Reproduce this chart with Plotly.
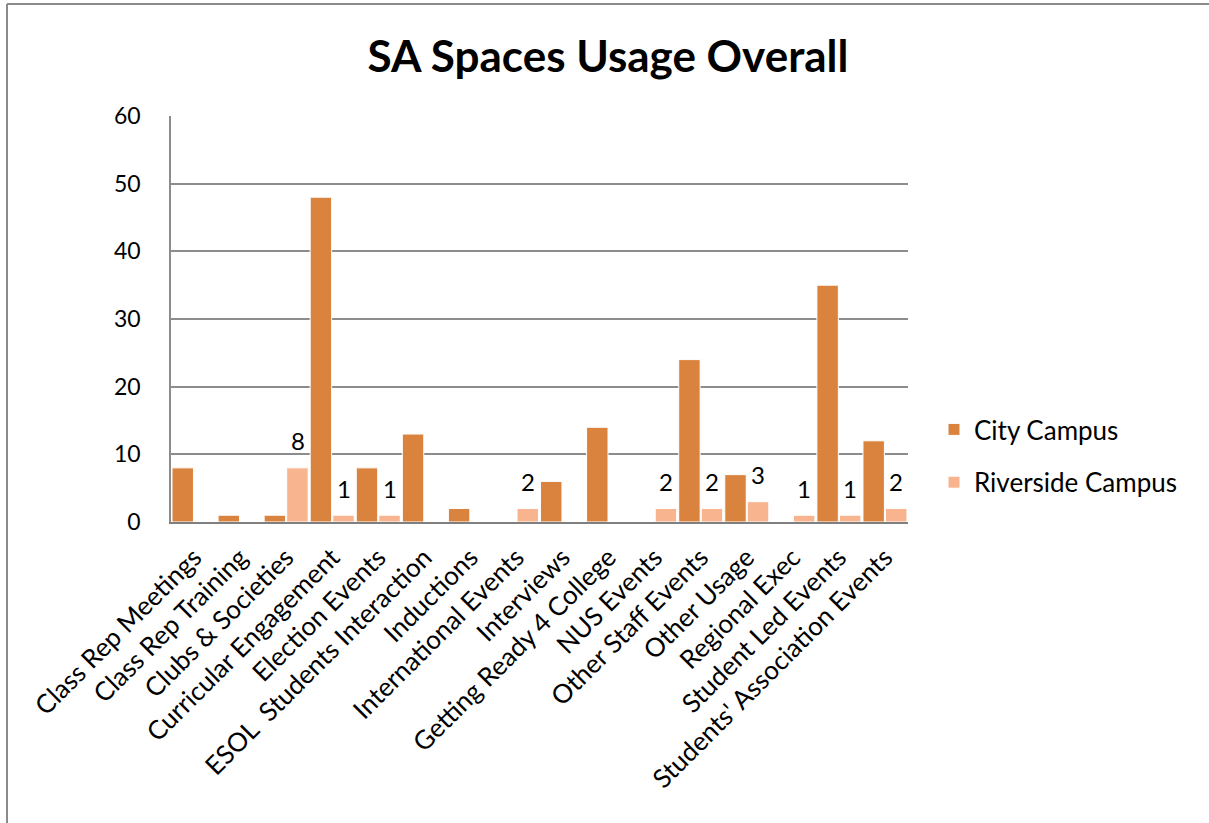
import plotly.graph_objects as go

categories = [
    "Class Rep Meetings", "Class Rep Training", "Clubs & Societies",
    "Curricular Engagement", "Election Events", "ESOL  Students Interaction",
    "Inductions", "International Events", "Interviews",
    "Getting Ready 4 College", "NUS Events", "Other Staff Events",
    "Other Usage", "Regional Exec", "Student Led Events",
    "Students' Association Events",
]
city_campus = [8, 1, 1, 48, 8, 13, 2, 0, 6, 14, 0, 24, 7, 0, 35, 12]
riverside_campus = [0, 0, 8, 1, 1, 0, 0, 2, 0, 0, 2, 2, 3, 1, 1, 2]
y_ticks = [0, 10, 20, 30, 40, 50, 60]

CITY_COLOR = "#D9833E"
RIVER_COLOR = "#F8B48E"
FONT = "Lato"

W, H = 1209, 823
L, R, T, B = 171, 301, 116, 301
PW, PH = W - L - R, H - T - B

fig = go.Figure()
fig.add_trace(go.Bar(
    name="City Campus", x=categories, y=city_campus,
    marker=dict(color=CITY_COLOR, line=dict(color="white", width=1)),
    legendgroup="a",
))
fig.add_trace(go.Bar(
    name="Riverside Campus", x=categories, y=riverside_campus,
    marker=dict(color=RIVER_COLOR, line=dict(color="white", width=1)),
    legendgroup="b",
))

annotations = []
for c, v in zip(categories, riverside_campus):
    if v > 0:
        annotations.append(dict(
            x=c, y=v, xref="x", yref="y", text=str(v), showarrow=False,
            xshift=11.5, yshift=27, yanchor="middle",
            font=dict(family=FONT, size=24, color="black"),
        ))

def px_x(p):
    return (p - L) / PW

def px_y(p):
    return (H - B - p) / PH

shapes = [
    dict(type="line", xref="paper", yref="paper",
         x0=px_x(7), x1=px_x(7), y0=px_y(4), y1=px_y(H + 5),
         line=dict(color="#8a8a8a", width=2)),
    dict(type="line", xref="paper", yref="paper",
         x0=px_x(7), x1=px_x(W + 5), y0=px_y(4), y1=px_y(4),
         line=dict(color="#8a8a8a", width=2)),
]

fig.update_layout(
    width=W, height=H,
    margin=dict(l=L, r=R, t=T, b=B, pad=0),
    paper_bgcolor="white", plot_bgcolor="white",
    barmode="group", bargap=0.02, bargroupgap=0.05,
    title=dict(text="<b>SA Spaces Usage Overall</b>", x=608 / W, xanchor="center",
               y=1 - 57 / H, yanchor="middle", yref="container",
               font=dict(family=FONT, size=44, color="black")),
    font=dict(family=FONT, color="black"),
    xaxis=dict(
        tickangle=-45, tickfont=dict(family=FONT, size=26, color="black"),
        showline=True, linecolor="#7f7f7f", linewidth=2,
        showgrid=False, ticks="", ticklabelstandoff=8,
    ),
    yaxis=dict(
        range=[0, 60], tickvals=y_ticks, ticktext=[str(t) for t in y_ticks],
        tickfont=dict(family=FONT, size=23, color="black"),
        showgrid=True, gridcolor="#8c8c8c", gridwidth=1.5,
        showline=True, linecolor="#8c8c8c", linewidth=1.5,
        ticks="", ticklabelstandoff=24, zeroline=False,
    ),
    legend=dict(
        x=px_x(934), xanchor="left", y=px_y(456), yanchor="middle",
        font=dict(family=FONT, size=26, color="black"),
        tracegroupgap=16, traceorder="grouped",
    ),
    annotations=annotations,
    shapes=shapes,
)

fig.write_html("out.html", config={"displayModeBar": False},
               post_script="document.body.style.margin='0';")
